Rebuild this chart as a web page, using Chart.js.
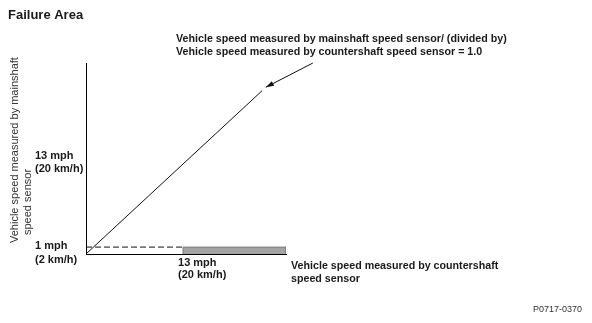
<!DOCTYPE html>
<html><head><meta charset="utf-8">
<script src="https://cdn.jsdelivr.net/npm/chart.js@4/dist/chart.umd.min.js"></script>
<style>html,body{margin:0;padding:0;background:#fff}canvas{display:block}</style>
</head><body>
<canvas id="c" width="592" height="323"></canvas>
<script>
// ---- Data (all in mph) ----
const ratioLineX = [0, 23.6];          // mainshaft / countershaft = 1.0
const ratioLineY = [0, 23.6];
const lowSpeedLineX = [0, 13];          // dashed 1 mph reference
const lowSpeedLineY = [1, 1];
const failureAreaX = [13, 13, 26.8, 26.8];
const failureAreaY = [0, 1, 1, 0];
const arrowX = [30.4, 24.1];            // annotation pointer (from, to)
const arrowY = [27.6, 24.1];
const xTickValues = [13];
const xTickLabels = [["13 mph", "(20 km/h)"]];
const yTickValues = [1, 13];
const yTickLabels = [["1 mph", "(2 km/h)"], ["13 mph", "(20 km/h)"]];
const xAxisMax = 26.8;
const yAxisMax = 27.6;
const chartTitle = "Failure Area";
const annotationText = ["Vehicle speed measured by mainshaft speed sensor/ (divided by)",
                        "Vehicle speed measured by countershaft speed sensor = 1.0"];
const xAxisTitle = ["Vehicle speed measured by countershaft", "speed sensor"];
const yAxisTitle = ["Vehicle speed measured by mainshaft", "speed sensor"];
const figureCode = "P0717-0370";

const pts = (xs, ys) => xs.map((x, i) => ({x, y: ys[i]}));

// ---- Styling (not data) ----
const FONT = "'Liberation Sans', Arial, sans-serif";
const yTickStyle = [{dx: 35, lineOffsets: [-1, 13]}, {dx: 35, lineOffsets: [-8, 5]}];
const xTickStyle = [{dx: -5, lineOffsets: [263, 275]}];

const textPlugin = {
  id: 'texts',
  afterDatasetsDraw(chart) {
    const c = chart.ctx, xs = chart.scales.x, ys = chart.scales.y;
    // arrow head
    const ds = chart.data.datasets[3].data;
    const p0 = {x: xs.getPixelForValue(ds[0].x), y: ys.getPixelForValue(ds[0].y)};
    const p1 = {x: xs.getPixelForValue(ds[1].x), y: ys.getPixelForValue(ds[1].y)};
    const a = Math.atan2(p1.y - p0.y, p1.x - p0.x);
    const L = 8, W = 2.6;
    c.save();
    c.fillStyle = '#111';
    c.beginPath();
    c.moveTo(p1.x, p1.y);
    c.lineTo(p1.x - L*Math.cos(a) - W*Math.sin(a), p1.y - L*Math.sin(a) + W*Math.cos(a));
    c.lineTo(p1.x - L*Math.cos(a) + W*Math.sin(a), p1.y - L*Math.sin(a) - W*Math.cos(a));
    c.closePath();
    c.fill();
    c.restore();
  },
  afterDraw(chart) {
    const c = chart.ctx, xs = chart.scales.x, ys = chart.scales.y;
    c.save();
    c.textBaseline = 'middle';
    c.textAlign = 'left';
    c.fillStyle = '#1a1a1a';
    // title
    c.font = `bold 13px ${FONT}`;
    c.fillText(chartTitle, 8, 15);
    // annotation
    c.font = `bold 10.7px ${FONT}`;
    c.fillText(annotationText[0], 176, 39);
    c.fillText(annotationText[1], 176, 52);
    // x axis title
    c.fillText(xAxisTitle[0], 291, 266);
    c.fillText(xAxisTitle[1], 291, 279);
    // y tick labels
    c.font = `bold 11px ${FONT}`;
    yTickValues.forEach((v, i) => {
      const py = ys.getPixelForValue(v);
      yTickLabels[i].forEach((t, j) => c.fillText(t, yTickStyle[i].dx, py + yTickStyle[i].lineOffsets[j]));
    });
    // x tick labels
    xTickValues.forEach((v, i) => {
      const px = xs.getPixelForValue(v);
      xTickLabels[i].forEach((t, j) => c.fillText(t, px + xTickStyle[i].dx, xTickStyle[i].lineOffsets[j]));
    });
    // figure code
    c.font = `9px ${FONT}`;
    c.fillStyle = '#333';
    c.fillText(figureCode, 533, 310);
    // y axis title (rotated)
    c.font = `11px ${FONT}`;
    c.fillStyle = '#333';
    c.save();
    c.translate(15, 243);
    c.rotate(-Math.PI/2);
    c.fillText(yAxisTitle[0], 0, 0);
    c.restore();
    c.save();
    c.translate(28, 235);
    c.rotate(-Math.PI/2);
    c.fillText(yAxisTitle[1], 0, 0);
    c.restore();
    c.restore();
  }
};

new Chart(document.getElementById('c'), {
  type: 'scatter',
  data: {
    datasets: [
      { data: pts(failureAreaX, failureAreaY), showLine: true, fill: 'origin',
        backgroundColor: '#a3a3a3', borderColor: '#7c7c7c', borderWidth: 1,
        pointRadius: 0, tension: 0, order: 3 },
      { data: pts(lowSpeedLineX, lowSpeedLineY), showLine: true, borderColor: '#111',
        borderWidth: 1, borderDash: [6, 3], pointRadius: 0, order: 2 },
      { data: pts(ratioLineX, ratioLineY), showLine: true, borderColor: '#111',
        borderWidth: 1, pointRadius: 0, order: 1 },
      { data: pts(arrowX, arrowY), showLine: true, borderColor: '#111',
        borderWidth: 1, pointRadius: 0, clip: false, order: 0 }
    ]
  },
  options: {
    responsive: false,
    animation: false,
    devicePixelRatio: 1,
    layout: { padding: { left: 86, top: 63, right: 306, bottom: 69 } },
    plugins: { legend: { display: false }, tooltip: { enabled: false } },
    scales: {
      x: { type: 'linear', min: 0, max: xAxisMax,
           ticks: { display: false }, grid: { display: false, drawTicks: false },
           border: { display: true, color: '#000', width: 1 } },
      y: { type: 'linear', min: 0, max: yAxisMax,
           ticks: { display: false }, grid: { display: false, drawTicks: false },
           border: { display: true, color: '#000', width: 1 } }
    }
  },
  plugins: [textPlugin]
});
</script>
</body></html>
